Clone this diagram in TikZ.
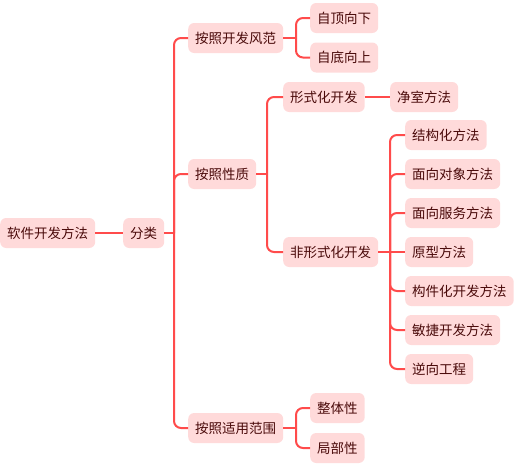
\documentclass[tikz,border=0pt]{standalone}
\usepackage{fontspec}
\setmainfont{Noto Sans CJK SC}
\definecolor{boxfill}{HTML}{FFDADA}
\definecolor{txt}{HTML}{4A0A0A}
\definecolor{linec}{HTML}{FF4B4B}
\begin{document}
\begin{tikzpicture}[x=1pt,y=-1pt,
  box/.style={fill=boxfill, rounded corners=6pt, text=txt, inner xsep=7pt, inner ysep=0pt,
    minimum height=30pt, anchor=west, font=\fontsize{13.5}{16}\selectfont},
  link/.style={draw=linec, line width=2pt, rounded corners=7pt}]
\useasboundingbox (0,0) rectangle (525,467);
% nodes
\node[box] (root) at (0,233) {软件开发方法};
\node[box] (fl) at (123,233) {分类};
\node[box] (a1) at (188,38) {按照开发风范};
\node[box] (a2) at (188,174) {按照性质};
\node[box] (a3) at (188,428) {按照适用范围};
\node[box] (b1) at (310,18) {自顶向下};
\node[box] (b2) at (310,57.5) {自底向上};
\node[box] (c1) at (283,97) {形式化开发};
\node[box] (c2) at (283,252) {非形式化开发};
\node[box] (d0) at (390,97) {净室方法};
\node[box] (e1) at (405,135) {结构化方法};
\node[box] (e2) at (405,174) {面向对象方法};
\node[box] (e3) at (405,213) {面向服务方法};
\node[box] (e4) at (405,252) {原型方法};
\node[box] (e5) at (405,291) {构件化开发方法};
\node[box] (e6) at (405,330) {敏捷开发方法};
\node[box] (e7) at (405,369) {逆向工程};
\node[box] (g1) at (310,408) {整体性};
\node[box] (g2) at (310,448) {局部性};
% fork points
\coordinate (f0) at (174,233);
\coordinate (f1) at (296,38);
\coordinate (f2) at (267,174);
\coordinate (f3) at (296,428);
\coordinate (f4) at (390,252);
% connectors
\draw[link] (root.east) -- (fl.west);
\draw[link] (fl.east) -- (f0);
\draw[link] (f0) |- (a1.west);
\draw[link] (f0) |- (a2.west);
\draw[link] (f0) |- (a3.west);
\draw[link] (a1.east) -- (f1);
\draw[link] (f1) |- (b1.west);
\draw[link] (f1) |- (b2.west);
\draw[link] (a2.east) -- (f2);
\draw[link] (f2) |- (c1.west);
\draw[link] (f2) |- (c2.west);
\draw[link] (c1.east) -- (d0.west);
\draw[link] (c2.east) -- (f4);
\draw[link] (f4) |- (e1.west);
\draw[link] (f4) |- (e2.west);
\draw[link] (f4) |- (e3.west);
\draw[link] (f4) -- (e4.west);
\draw[link] (f4) |- (e5.west);
\draw[link] (f4) |- (e6.west);
\draw[link] (f4) |- (e7.west);
\draw[link] (a3.east) -- (f3);
\draw[link] (f3) |- (g1.west);
\draw[link] (f3) |- (g2.west);
\end{tikzpicture}
\end{document}
